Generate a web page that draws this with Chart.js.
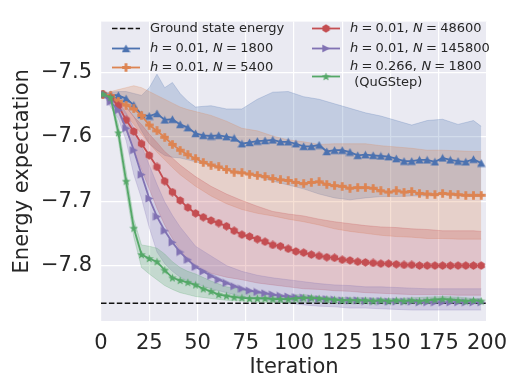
<!DOCTYPE html>
<html>
<head>
<meta charset="utf-8">
<script src="https://cdn.jsdelivr.net/npm/chart.js@4.4.1/dist/chart.umd.min.js"></script>
<style>
  html, body { margin: 0; padding: 0; background: #fff; }
  #wrap { width: 521px; height: 391px; }
</style>
</head>
<body>
<div id="wrap"><canvas id="grafica" width="521" height="391"></canvas></div>
<script>
// iteraciones donde se marcan los promedios
const iters = [1, 5, 9, 13, 17, 21, 25, 29, 33, 37, 41, 45, 49, 53, 57, 61, 65, 69, 73, 77,
    81, 85, 89, 93, 97, 101, 105, 109, 113, 117, 121, 125, 129, 133, 137, 141, 145, 149, 153, 157,
    161, 165, 169, 173, 177, 181, 185, 189, 193, 197];
// iteraciones de las bandas (mas finas al inicio)
const bandIters = [1, 5, 9, 13, 17, 21, 25, 29, 33, 37, 41, 45, 49, 57, 65, 73, 81, 89, 97, 105,
    113, 121, 129, 137, 145, 153, 161, 169, 177, 185, 193, 197];

const groundEnergy = -7.8585;
const xTicks = [0, 25, 50, 75, 100, 125, 150, 175, 200];
const yTicks = [-7.8, -7.7, -7.6, -7.5];

// h=0.01, N=1800
const mean1800 = [-7.534, -7.535, -7.536, -7.541, -7.551, -7.566, -7.568, -7.564, -7.574, -7.573,
    -7.581, -7.586, -7.595, -7.598, -7.599, -7.598, -7.600, -7.602, -7.611, -7.609,
    -7.607, -7.606, -7.605, -7.608, -7.608, -7.611, -7.615, -7.615, -7.613, -7.623,
    -7.621, -7.621, -7.624, -7.629, -7.628, -7.629, -7.630, -7.631, -7.634, -7.638,
    -7.638, -7.636, -7.636, -7.639, -7.633, -7.636, -7.638, -7.639, -7.635, -7.641];
const high1800 = [-7.533, -7.531, -7.530, -7.530, -7.533, -7.536, -7.524, -7.503, -7.524, -7.516,
    -7.533, -7.545, -7.554, -7.552, -7.557, -7.557, -7.542, -7.531, -7.530, -7.538,
    -7.542, -7.549, -7.556, -7.563, -7.568, -7.575, -7.582, -7.575, -7.573, -7.581, -7.575, -7.584];
const low1800 = [-7.535, -7.539, -7.543, -7.554, -7.569, -7.591, -7.611, -7.621, -7.629, -7.632,
    -7.633, -7.636, -7.639, -7.645, -7.651, -7.656, -7.662, -7.669, -7.675, -7.681,
    -7.689, -7.695, -7.698, -7.695, -7.693, -7.693, -7.692, -7.692, -7.690, -7.692, -7.693, -7.693];

// h=0.01, N=5400
const mean5400 = [-7.534, -7.536, -7.545, -7.551, -7.557, -7.567, -7.582, -7.591, -7.601, -7.612,
    -7.621, -7.628, -7.634, -7.640, -7.644, -7.647, -7.651, -7.655, -7.656, -7.658,
    -7.660, -7.662, -7.665, -7.667, -7.668, -7.671, -7.673, -7.671, -7.670, -7.674,
    -7.676, -7.677, -7.680, -7.679, -7.679, -7.680, -7.684, -7.686, -7.684, -7.686,
    -7.685, -7.688, -7.689, -7.690, -7.688, -7.689, -7.690, -7.691, -7.691, -7.691];
const high5400 = [-7.533, -7.530, -7.527, -7.524, -7.521, -7.524, -7.530, -7.536, -7.542, -7.548,
    -7.554, -7.558, -7.561, -7.567, -7.576, -7.587, -7.591, -7.599, -7.605, -7.608,
    -7.612, -7.611, -7.611, -7.611, -7.614, -7.616, -7.618, -7.621, -7.621, -7.622, -7.623, -7.623];
const low5400 = [-7.534, -7.542, -7.554, -7.566, -7.581, -7.596, -7.611, -7.624, -7.636, -7.648,
    -7.659, -7.668, -7.677, -7.692, -7.704, -7.713, -7.719, -7.723, -7.728, -7.732,
    -7.737, -7.743, -7.747, -7.750, -7.753, -7.755, -7.756, -7.758, -7.758, -7.759, -7.759, -7.759];

// h=0.01, N=48600
const mean48600 = [-7.534, -7.540, -7.552, -7.574, -7.592, -7.611, -7.629, -7.647, -7.669, -7.686,
    -7.699, -7.710, -7.719, -7.725, -7.730, -7.734, -7.739, -7.746, -7.752, -7.755,
    -7.759, -7.763, -7.768, -7.770, -7.774, -7.778, -7.780, -7.783, -7.785, -7.787,
    -7.788, -7.791, -7.792, -7.794, -7.795, -7.796, -7.797, -7.797, -7.798, -7.799,
    -7.799, -7.800, -7.800, -7.800, -7.800, -7.800, -7.800, -7.800, -7.800, -7.800];
const high48600 = [-7.533, -7.536, -7.542, -7.554, -7.569, -7.581, -7.596, -7.609, -7.623, -7.633,
    -7.644, -7.653, -7.662, -7.677, -7.689, -7.699, -7.708, -7.716, -7.720, -7.723,
    -7.728, -7.732, -7.735, -7.738, -7.740, -7.741, -7.743, -7.744, -7.746, -7.746, -7.746, -7.747];
const low48600 = [-7.534, -7.545, -7.563, -7.591, -7.621, -7.651, -7.681, -7.711, -7.737, -7.758,
    -7.776, -7.791, -7.803, -7.812, -7.818, -7.822, -7.827, -7.830, -7.833, -7.836,
    -7.837, -7.839, -7.840, -7.842, -7.843, -7.844, -7.845, -7.845, -7.845, -7.846, -7.846, -7.846];

// h=0.01, N=145800
const mean145800 = [-7.534, -7.546, -7.559, -7.587, -7.621, -7.659, -7.696, -7.724, -7.746, -7.764,
    -7.779, -7.791, -7.802, -7.809, -7.816, -7.822, -7.827, -7.832, -7.836, -7.839,
    -7.841, -7.843, -7.845, -7.847, -7.848, -7.849, -7.850, -7.851, -7.852, -7.852,
    -7.853, -7.854, -7.854, -7.854, -7.855, -7.855, -7.855, -7.856, -7.856, -7.856,
    -7.856, -7.857, -7.857, -7.857, -7.857, -7.857, -7.857, -7.857, -7.857, -7.857];
const high145800 = [-7.533, -7.539, -7.546, -7.563, -7.587, -7.614, -7.644, -7.674, -7.701, -7.722,
    -7.740, -7.755, -7.770, -7.785, -7.800, -7.809, -7.815, -7.819, -7.822, -7.825,
    -7.828, -7.830, -7.831, -7.833, -7.833, -7.834, -7.835, -7.836, -7.836, -7.836, -7.836, -7.836];
const low145800 = [-7.534, -7.554, -7.572, -7.606, -7.659, -7.696, -7.741, -7.779, -7.797, -7.809,
    -7.818, -7.824, -7.828, -7.836, -7.842, -7.848, -7.852, -7.855, -7.858, -7.861,
    -7.863, -7.864, -7.866, -7.866, -7.867, -7.868, -7.869, -7.869, -7.869, -7.869, -7.869, -7.869];

// h=0.266, N=1800 (QuGStep)
const meanQuG = [-7.534, -7.539, -7.594, -7.669, -7.742, -7.783, -7.789, -7.794, -7.807, -7.819,
    -7.823, -7.826, -7.830, -7.836, -7.840, -7.845, -7.847, -7.849, -7.850, -7.851,
    -7.851, -7.851, -7.852, -7.852, -7.852, -7.851, -7.850, -7.850, -7.851, -7.852,
    -7.853, -7.854, -7.854, -7.854, -7.854, -7.855, -7.854, -7.855, -7.854, -7.855,
    -7.854, -7.855, -7.854, -7.853, -7.852, -7.853, -7.854, -7.855, -7.854, -7.855];
const highQuG = [-7.533, -7.536, -7.581, -7.653, -7.728, -7.768, -7.770, -7.773, -7.782, -7.794,
    -7.803, -7.809, -7.813, -7.824, -7.833, -7.837, -7.842, -7.845, -7.846, -7.845,
    -7.848, -7.849, -7.850, -7.850, -7.851, -7.851, -7.850, -7.849, -7.848, -7.849, -7.851, -7.851];
const lowQuG = [-7.534, -7.542, -7.606, -7.684, -7.756, -7.803, -7.813, -7.822, -7.831, -7.837,
    -7.842, -7.845, -7.848, -7.851, -7.854, -7.855, -7.857, -7.857, -7.858, -7.857,
    -7.858, -7.858, -7.858, -7.859, -7.859, -7.859, -7.858, -7.858, -7.857, -7.858, -7.858, -7.858];

const fuente = 'DejaVu Sans';
const texto = '#262626';

const series = [
    { color: '#4c72b0', forma: 'tri', mean: mean1800, low: low1800, high: high1800, label: [['h', 1], ['=', 0], ['0.01,', 0], ['N', 1], ['=', 0], ['1800', 0]] },
    { color: '#dd8452', forma: 'plus', mean: mean5400, low: low5400, high: high5400, label: [['h', 1], ['=', 0], ['0.01,', 0], ['N', 1], ['=', 0], ['5400', 0]] },
    { color: '#c44e52', forma: 'hex', mean: mean48600, low: low48600, high: high48600, label: [['h', 1], ['=', 0], ['0.01,', 0], ['N', 1], ['=', 0], ['48600', 0]] },
    { color: '#8172b3', forma: 'right', mean: mean145800, low: low145800, high: high145800, label: [['h', 1], ['=', 0], ['0.01,', 0], ['N', 1], ['=', 0], ['145800', 0]] },
    { color: '#55a868', forma: 'star', mean: meanQuG, low: lowQuG, high: highQuG, label: [['h', 1], ['=', 0], ['0.266,', 0], ['N', 1], ['=', 0], ['1800', 0]], extra: ' (QuGStep)' }
];

const rgba = (hex, a) => {
    const n = parseInt(hex.slice(1), 16);
    return `rgba(${n >> 16}, ${(n >> 8) & 255}, ${n & 255}, ${a})`;
};
const pts = (xs, ys) => xs.map((x, i) => ({ x, y: ys[i] }));

function marcador(forma, color) {
    const c = document.createElement('canvas');
    c.width = c.height = 9;
    const g = c.getContext('2d');
    g.fillStyle = color;
    g.beginPath();
    if (forma === 'tri') {
        g.moveTo(4.5, 0.4); g.lineTo(8.7, 8.2); g.lineTo(0.3, 8.2);
    } else if (forma === 'right') {
        g.moveTo(8.6, 4.5); g.lineTo(0.6, 0.4); g.lineTo(0.6, 8.6);
    } else if (forma === 'plus') {
        g.rect(3.1, 0.3, 2.8, 8.4); g.rect(0.3, 3.1, 8.4, 2.8);
    } else if (forma === 'hex') {
        for (let k = 0; k < 6; k++) {
            const a = Math.PI / 2 + k * Math.PI / 3;
            g.lineTo(4.5 + 4.2 * Math.cos(a), 4.5 - 4.2 * Math.sin(a));
        }
    } else if (forma === 'star') {
        for (let k = 0; k < 10; k++) {
            const r = k % 2 ? 1.9 : 4.5;
            const a = Math.PI / 2 + k * Math.PI / 5;
            g.lineTo(4.5 + r * Math.cos(a), 4.9 - r * Math.sin(a));
        }
    }
    g.closePath();
    g.fill();
    return c;
}
series.forEach(s => { s.img = marcador(s.forma, s.color); });

const datasets = [];
// bandas primero en el arreglo, dibujadas abajo
series.forEach((s, i) => {
    datasets.push({
        data: pts(bandIters, s.high), borderColor: rgba(s.color, 0.3), borderWidth: 0.8,
        backgroundColor: rgba(s.color, 0.25), fill: '+1', pointRadius: 0, tension: 0, order: 20 - i
    });
    datasets.push({
        data: pts(bandIters, s.low), borderColor: rgba(s.color, 0.3), borderWidth: 0.8,
        fill: false, pointRadius: 0, tension: 0, order: 20 - i
    });
});
datasets.push({
    data: [{ x: 0, y: groundEnergy }, { x: 200, y: groundEnergy }], borderColor: '#111',
    borderWidth: 1.5, borderDash: [5.5, 2.4], pointRadius: 0, fill: false, order: 9
});
series.forEach((s, i) => {
    datasets.push({
        data: pts(iters, s.mean), borderColor: s.color, borderWidth: 1.8, fill: false, tension: 0,
        pointStyle: s.img, pointRadius: 4.5, order: 8 - i
    });
});

const fondo = {
    id: 'fondo',
    beforeDraw(chart) {
        const { ctx, chartArea: a } = chart;
        ctx.save();
        ctx.fillStyle = '#eaeaf2';
        ctx.fillRect(a.left, a.top, a.right - a.left, a.bottom - a.top);
        ctx.restore();
    }
};

function textoMate(ctx, partes, x, y) {
    const gap = 3.2;
    partes.forEach(([t, it], k) => {
        ctx.font = (it ? 'italic ' : '') + '13px ' + fuente;
        ctx.fillText(t, x, y);
        x += ctx.measureText(t).width + (k < partes.length - 1 ? (t.endsWith(',') ? 4.5 : gap) : 0);
    });
    return x;
}

const leyenda = {
    id: 'leyenda',
    afterDraw(chart) {
        const ctx = chart.ctx;
        ctx.save();
        ctx.fillStyle = texto;
        ctx.textBaseline = 'middle';
        ctx.textAlign = 'left';
        // columna 1
        ctx.strokeStyle = '#111'; ctx.lineWidth = 1.5; ctx.setLineDash([5.5, 2.4]);
        ctx.beginPath(); ctx.moveTo(112, 28.5); ctx.lineTo(140, 28.5); ctx.stroke();
        ctx.setLineDash([]);
        ctx.font = '13px ' + fuente;
        ctx.fillText('Ground state energy', 150, 28.5);
        const filas = [
            { s: series[0], x: 112, y: 48.5 }, { s: series[1], x: 112, y: 67.5 },
            { s: series[2], x: 312, y: 28.5 }, { s: series[3], x: 312, y: 48.5 },
            { s: series[4], x: 312, y: 76.5 }
        ];
        filas.forEach(({ s, x, y }) => {
            ctx.strokeStyle = s.color; ctx.lineWidth = 1.8;
            ctx.beginPath(); ctx.moveTo(x, y); ctx.lineTo(x + 28, y); ctx.stroke();
            ctx.drawImage(s.img, x + 14 - 4.5, y - 4.5);
            ctx.fillStyle = texto;
            const ty = s.extra ? y - 9.5 : y;
            textoMate(ctx, s.label, x + 38, ty);
            if (s.extra) {
                ctx.font = '13px ' + fuente;
                ctx.fillText(s.extra, x + 38, ty + 16);
            }
        });
        ctx.restore();
    }
};

new Chart(document.getElementById('grafica'), {
    type: 'line',
    data: { datasets },
    options: {
        responsive: false,
        animation: false,
        events: [],
        layout: { padding: { top: 12, right: 34, left: 0, bottom: 0 } },
        plugins: { legend: { display: false }, tooltip: { enabled: false } },
        scales: {
            x: {
                type: 'linear', min: 0, max: 200,
                afterBuildTicks: sc => { sc.ticks = xTicks.map(v => ({ value: v })); },
                afterFit: sc => { sc.height = 70; },
                grid: { color: '#ffffff', lineWidth: 1.2, drawTicks: false },
                border: { display: false },
                ticks: { autoSkip: false, maxRotation: 0, padding: 10, color: texto, font: { family: fuente, size: 21 }, callback: v => String(v) },
                title: { display: true, text: 'Iteration', color: texto, font: { family: fuente, size: 21 }, padding: { top: 0, bottom: 11 } }
            },
            y: {
                type: 'linear', min: -7.886, max: -7.4215,
                afterBuildTicks: sc => { sc.ticks = yTicks.map(v => ({ value: v })); },
                afterFit: sc => { sc.width = 101; },
                grid: { color: '#ffffff', lineWidth: 1.2, drawTicks: false },
                border: { display: false },
                ticks: { padding: 9, color: texto, font: { family: fuente, size: 21 }, callback: v => '\u2212' + Math.abs(v).toFixed(1) },
                title: { display: true, text: 'Energy expectation', color: texto, font: { family: fuente, size: 21 }, padding: { top: 10, bottom: 0 } }
            }
        }
    },
    plugins: [fondo, leyenda]
});
</script>
</body>
</html>
